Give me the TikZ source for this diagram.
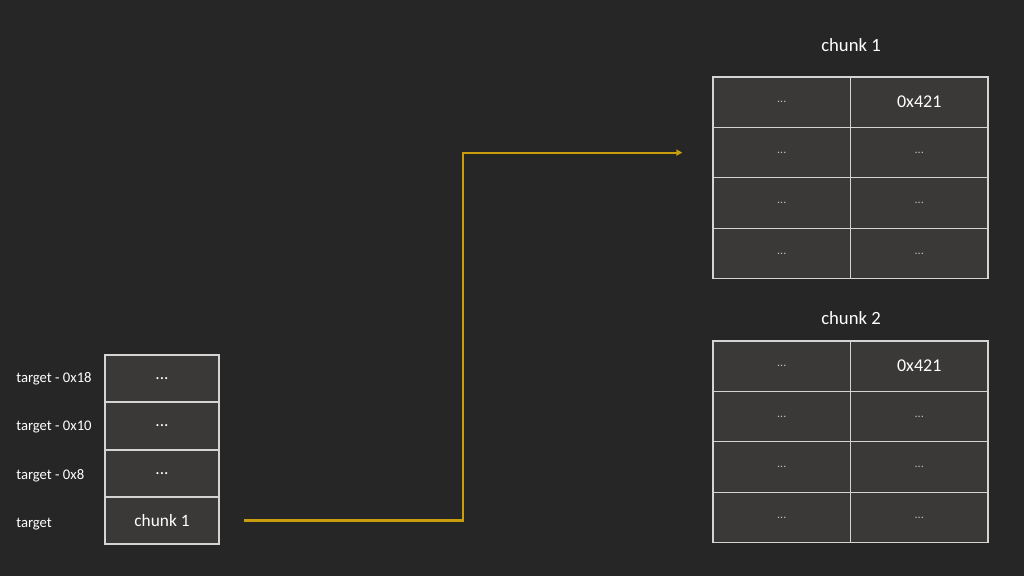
\documentclass[tikz,border=0pt]{standalone}
\usepackage{fontspec}
\setmainfont{Carlito}
\usetikzlibrary{arrows.meta, positioning}
\definecolor{bgcol}{HTML}{262626}
\definecolor{cellcol}{HTML}{3A3938}
\definecolor{edgecol}{HTML}{D4D4D4}
\definecolor{ptrcol}{HTML}{C89E0C}

\begin{document}
\begin{tikzpicture}[
  x=0.75pt, y=-0.75pt, >=Latex,
  cell/.style={rectangle, draw=edgecol, fill=cellcol, line width=1pt, text=white, inner sep=0pt},
  slot/.style={cell, minimum width=85.5pt, minimum height=35.25pt, font=\fontsize{13}{15}\selectfont},
  field/.style={cell, minimum width=103.1pt, minimum height=37.8pt, font=\fontsize{13.5}{16}\selectfont},
  addr/.style={anchor=west, inner sep=0pt, text=white, font=\fontsize{11}{13}\selectfont},
  title/.style={text=white, font=\fontsize{14}{17}\selectfont},
  ptr/.style={->, draw=ptrcol, line width=1.6pt, >={Triangle[length=4.5pt, width=4.5pt]}}
]
  \fill[bgcol] (0,0) rectangle (1024,576);
  \useasboundingbox (0,0) rectangle (1024,576);

  % stack
  \foreach \i/\lbl in {1/target - 0x18, 2/target - 0x10, 3/target - 0x8, 4/target} {
    \node[addr] (lbl\i) at (16, {379+48.3*(\i-1)}) {\lbl};
  }
  \node[slot] (s1) at (162,378.5) {...};
  \node[slot] (s2) at (162,426) {...};
  \node[slot] (s3) at (162,473.5) {...};
  \node[slot] (s4) at (162,520.5) {chunk 1};

  % chunks
  \node[title] (t1) at (851,45) {chunk 1};
  \node[title] (t2) at (851,318) {chunk 2};
  \foreach \k/\top in {1/77, 2/341} {
    \foreach \r in {1,...,4} {
      \foreach \c in {1,2} {
        \node[field] (c\k-\r-\c) at ({713+137.5*(\c-0.5)}, {\top+50.4*(\r-0.5)})
          {\ifnum\r\c=12 0x421\else\textcolor{lightgray}{\fontsize{9}{11}\selectfont...}\fi};
      }
    }
  }

  % pointer
  \coordinate (bend) at (463,0);
  \draw[ptr, shorten <=18pt, shorten >=22.5pt] (s4.east) -| (bend |- c1-2-1.west) -- (c1-2-1.west);
\end{tikzpicture}
\end{document}
